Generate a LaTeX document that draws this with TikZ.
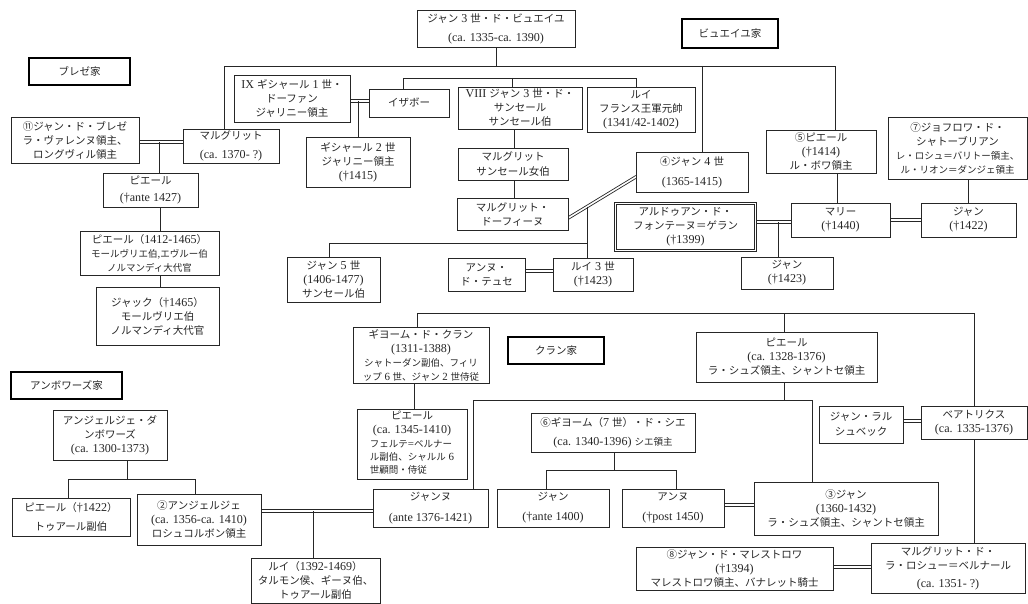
\documentclass[tikz,border=0pt]{standalone}
\usepackage{fontspec}
\setmainfont{Liberation Serif}[Scale=1.15]
\newfontfamily\cjk{Noto Sans CJK JP}
% CJK characters switch to the Japanese font
\XeTeXinterchartokenstate=1
\newXeTeXintercharclass\jclass
\newcount\jc
\def\setjrange#1#2{\jc=#1 \loop\XeTeXcharclass\jc=\jclass\ifnum\jc<#2 \advance\jc by 1 \repeat}
\setjrange{"2460}{"24FF}
\setjrange{"3000}{"30FF}
\setjrange{"4E00}{"9FFF}
\setjrange{"FF00}{"FFEF}
\XeTeXinterchartoks 0 \jclass = {\begingroup\cjk}
\XeTeXinterchartoks \jclass 0 = {\endgroup}
\XeTeXinterchartoks 4095 \jclass = {\begingroup\cjk}
\XeTeXinterchartoks \jclass 4095 = {\endgroup}
\newcommand\smallj{\fontsize{9.5}{13}\selectfont}

\begin{document}
\begin{tikzpicture}[x=1pt, y=-1pt, black!85, line width=.7pt,
  person/.style={draw, line width=.6pt, inner sep=0pt, align=center,
      font=\fontsize{10.5}{14}\selectfont},
  house/.style={person, draw=black, line width=1.6pt},
  marry/.style={draw=none,
      preaction={draw, transform canvas={yshift=1.5pt}},
      postaction={draw, transform canvas={yshift=-1.5pt}}},
  sz/.style 2 args={minimum width=#1, minimum height=#2}
]
\useasboundingbox (0,0) rectangle (1028,604);

  % Nodos
  \node[house, sz={96}{29}] (buehfam) at (730,33.5) {ビュエイユ家};
  \node[house, sz={101}{27}] (brezefam) at (79.5,71.5) {ブレゼ家};
  \node[house, sz={111}{27}] (ambfam) at (66.5,385.5) {アンボワーズ家};
  \node[house, sz={96}{27}] (craonfam) at (556,350.5) {クラン家};

  \node[person, sz={158}{37}] (jean3) at (496,28.5) {ジャン 3 世・ド・ビュエイユ\\[5pt](ca. 1335-ca. 1390)};
  \node[person, sz={128}{46}] (jbreze) at (75,140) {⑪ジャン・ド・ブレゼ\\ラ・ヴァレンヌ領主、\\ロングヴィル領主};
  \node[person, sz={96}{34}] (marg1) at (231,146) {マルグリット\\[5pt](ca. 1370- ?)};
  \node[person, sz={95}{34}] (pierre1) at (150.5,190) {ピエール\\[3pt](†ante 1427)};
  \node[person, sz={139}{44}] (pierre2) at (149.5,253) {ピエール（1412-1465）\\{\smallj モールヴリエ伯,エヴルー伯}\\{\smallj ノルマンディ大代官}};
  \node[person, sz={123}{58}] (jacques) at (157.5,316) {ジャック（†1465）\\モールヴリエ伯\\ノルマンディ大代官};

  \node[person, sz={116}{47}] (guich1) at (292,98.5) {IX ギシャール 1 世・\\ドーファン\\ジャリニー領主};
  \node[person, sz={80}{28}] (isabeau) at (409,103) {イザボー};
  \node[person, sz={104}{50}] (guich2) at (358,162) {ギシャール 2 世\\ジャリニー領主\\(†1415)};
  \node[person, sz={124}{42}] (jsanc) at (520,108) {VIII ジャン 3 世・ド・\\サンセール\\サンセール伯};
  \node[person, sz={108}{45}] (louis1) at (641,109.5) {ルイ\\フランス王軍元帥\\(1341/42-1402)};
  \node[person, sz={110}{32}] (margs) at (513,164) {マルグリット\\[1pt]サンセール女伯};
  \node[person, sz={111}{32}] (margd) at (512.5,214) {マルグリット・\\ドーフィーヌ};
  \node[person, sz={112}{40}] (jean4) at (692,172) {④ジャン 4 世\\[6pt](1365-1415)};
  \node[person, sz={93}{45}] (jean5) at (333.5,279.5) {ジャン 5 世\\(1406-1477)\\サンセール伯};
  \node[person, sz={77}{33}] (anne1) at (486.5,274.5) {アンヌ・\\ド・テュセ};
  \node[person, sz={80}{33}] (louis3) at (593,274.5) {ルイ 3 世\\(†1423)};
  \node[person, sz={140}{47}, double, double distance=1.4pt, line width=.7pt] (hardouin) at (685.5,227) {アルドゥアン・ド・\\フォンテーヌ＝ゲラン\\(†1399)};
  \node[person, sz={99}{34}] (marie) at (840.5,220) {マリー\\(†1440)};
  \node[person, sz={92}{32}] (jean1423) at (787,273) {ジャン\\(†1423)};
  \node[person, sz={110}{43}] (pierre5) at (821,151.5) {⑤ピエール\\(†1414)\\ル・ボワ領主};
  \node[person, sz={139}{62}] (geoff) at (957.5,148) {⑦ジョフロワ・ド・\\シャトーブリアン\\{\smallj レ・ロシュ＝バリトー領主、}\\{\smallj ル・リオン＝ダンジェ領主}};
  \node[person, sz={95}{34}] (jean1422) at (968.5,220) {ジャン\\(†1422)};

  \node[person, sz={114}{50}] (ang1) at (110,435) {アンジェルジェ・ダ\\ンボワーズ\\(ca. 1300-1373)};
  \node[person, sz={118}{38}] (pierre8) at (71,517) {ピエール（†1422）\\[5pt]トゥアール副伯};
  \node[person, sz={124}{51}] (ang2) at (199,519.5) {②アンジェルジェ\\(ca. 1356-ca. 1410)\\ロシュコルボン領主};
  \node[person, sz={129}{45}] (louis4) at (315.5,580.5) {ルイ（1392-1469）\\タルモン侯、ギーヌ伯、\\トゥアール副伯};

  \node[person, sz={136}{56}] (guil1) at (421,355) {ギヨーム・ド・クラン\\(1311-1388)\\{\smallj シャトーダン副伯、フィリ}\\{\smallj ップ 6 世、ジャン 2 世侍従}};
  \node[person, sz={110}{70}] (pierre6) at (412,444) {ピエール\\(ca. 1345-1410)\\{\smallj\begin{tabular}[t]{@{}l@{}}フェルテ=ベルナー\\ル副伯、シャルル 6\\世顧問・侍従\end{tabular}}};
  \node[person, sz={115}{38}] (jeanne) at (430.5,508) {ジャンヌ\\[7pt](ante 1376-1421)};
  \node[person, sz={181}{50}] (pierre7) at (786.5,357) {ピエール\\(ca. 1328-1376)\\ラ・シュズ領主、シャントセ領主};
  \node[person, sz={84}{37}] (jlar) at (861,424.5) {ジャン・ラル\\[1pt]シュベック};
  \node[person, sz={106}{33}] (beat) at (974,422.5) {ベアトリクス\\(ca. 1335-1376)};
  \node[person, sz={164}{39}] (guil6) at (613,432.5) {⑥ギヨーム（7 世）・ド・シエ\\[5pt](ca. 1340-1396) {\smallj シエ領主}};
  \node[person, sz={112}{38}] (jean1400) at (553,508) {ジャン\\[6pt](†ante 1400)};
  \node[person, sz={102}{38}] (anne2) at (673,508) {アンヌ\\[6pt](†post 1450)};
  \node[person, sz={184}{53}] (jean3c) at (846,508.5) {③ジャン\\(1360-1432)\\ラ・シュズ領主、シャントセ領主};
  \node[person, sz={197}{43}] (jmal) at (734.5,568.5) {⑧ジャン・ド・マレストロワ\\(†1394)\\マレストロワ領主、バナレット騎士};
  \node[person, sz={154}{50}] (margr) at (948,568) {マルグリット・ド・\\ラ・ロシュー＝ベルナール\\[4pt](ca. 1351- ?)};

  % Lineas
  \coordinate (bueL) at (224,66);
  \coordinate (bueR) at (835,66);
  \coordinate (bue4) at (702,66);
  \draw (jean3.south) -- (jean3.south |- bueL);
  \draw (marg1.north -| bueL) -- (bueL) -- (bueR) -- (pierre5.north -| bueR);
  \draw (bue4) -- (bue4 |- jean4.north);

  \coordinate (mbreze) at (159,142);
  \coordinate (brezeX) at (160,0);
  \draw[marry] (jbreze.east |- mbreze) -- (marg1.west |- mbreze);
  \draw (mbreze) -- (mbreze |- pierre1.north);
  \draw (pierre1.south -| brezeX) -- (pierre2.north -| brezeX);
  \draw (pierre2.south -| brezeX) -- (jacques.north -| brezeX);

  \coordinate (mguich) at (358,101);
  \draw[marry] (guich1.east |- mguich) -- (isabeau.west |- mguich);
  \draw (mguich) -- (mguich |- guich2.north);

  \coordinate (sancL) at (403,78);
  \coordinate (sancM) at (512,78);
  \coordinate (sancR) at (636,78);
  \coordinate (sancX) at (514,0);
  \draw (isabeau.north -| sancL) -- (sancL) -- (sancR) -- (louis1.north -| sancR);
  \draw (sancM) -- (jsanc.north -| sancM);
  \draw (jsanc.south -| sancX) -- (margs.north -| sancX);
  \draw (margs.south -| sancX) -- (margd.north -| sancX);

  \draw[marry] ([yshift=-5pt]jean4.west) -- coordinate[pos=.72] (m4) ([yshift=-4pt]margd.east);
  \coordinate (j5x) at (329,243);
  \draw (m4) -- (m4 |- louis3.north);
  \draw (m4 |- j5x) -- (j5x) -- (j5x |- jean5.north);
  \draw[marry] ([yshift=3.5pt]anne1.east) -- ([yshift=3.5pt]louis3.west);

  \coordinate (mhm) at (778,222);
  \coordinate (p5x) at (837,0);
  \draw[marry] (hardouin.east |- mhm) -- (marie.west |- mhm);
  \draw (mhm) -- (mhm |- jean1423.north);
  \draw (pierre5.south -| p5x) -- (marie.north -| p5x);
  \draw[marry] (marie.east) -- (jean1422.west);
  \draw (geoff.south -| jean1422.north) -- (jean1422.north);

  \coordinate (craonL) at (417,313);
  \coordinate (craonM) at (784,313);
  \coordinate (craonR) at (974,313);
  \coordinate (g1x) at (414,0);
  \draw (guil1.north -| craonL) -- (craonL) -- (craonR) -- (beat.north -| craonR);
  \draw (craonM) -- (pierre7.north -| craonM);
  \draw (guil1.south -| g1x) -- (pierre6.north -| g1x);

  \coordinate (p7L) at (473,400);
  \coordinate (p7R) at (812,400);
  \draw (jeanne.north -| p7L) -- (p7L) -- (p7R) -- (jean3c.north -| p7R);
  \draw (pierre7.south -| craonM) -- (craonM |- p7L);

  \coordinate (mjb) at (912,421);
  \coordinate (mjm) at (850,567);
  \draw[marry] (jlar.east |- mjb) -- (beat.west |- mjb);
  \draw (beat.south -| craonR) -- (margr.north -| craonR);
  \draw[marry] (jmal.east |- mjm) -- (margr.west |- mjm);

  \coordinate (g6) at (614,470);
  \coordinate (g6L) at (546,470);
  \coordinate (g6R) at (676,470);
  \draw (guil6.south -| g6) -- (g6);
  \draw (jean1400.north -| g6L) -- (g6L) -- (g6R) -- (anne2.north -| g6R);
  \coordinate (maj) at (739,505);
  \draw[marry] (anne2.east |- maj) -- (jean3c.west |- maj);

  \coordinate (ambX) at (127,479);
  \coordinate (ambL) at (68,479);
  \coordinate (ambR) at (195,479);
  \draw (ang1.south -| ambX) -- (ambX);
  \draw (pierre8.north -| ambL) -- (ambL) -- (ambR) -- (ang2.north -| ambR);
  \coordinate (maj2) at (313,511);
  \draw[marry] (ang2.east |- maj2) -- (jeanne.west |- maj2);
  \draw (maj2) -- (maj2 |- louis4.north);

\end{tikzpicture}
\end{document}
